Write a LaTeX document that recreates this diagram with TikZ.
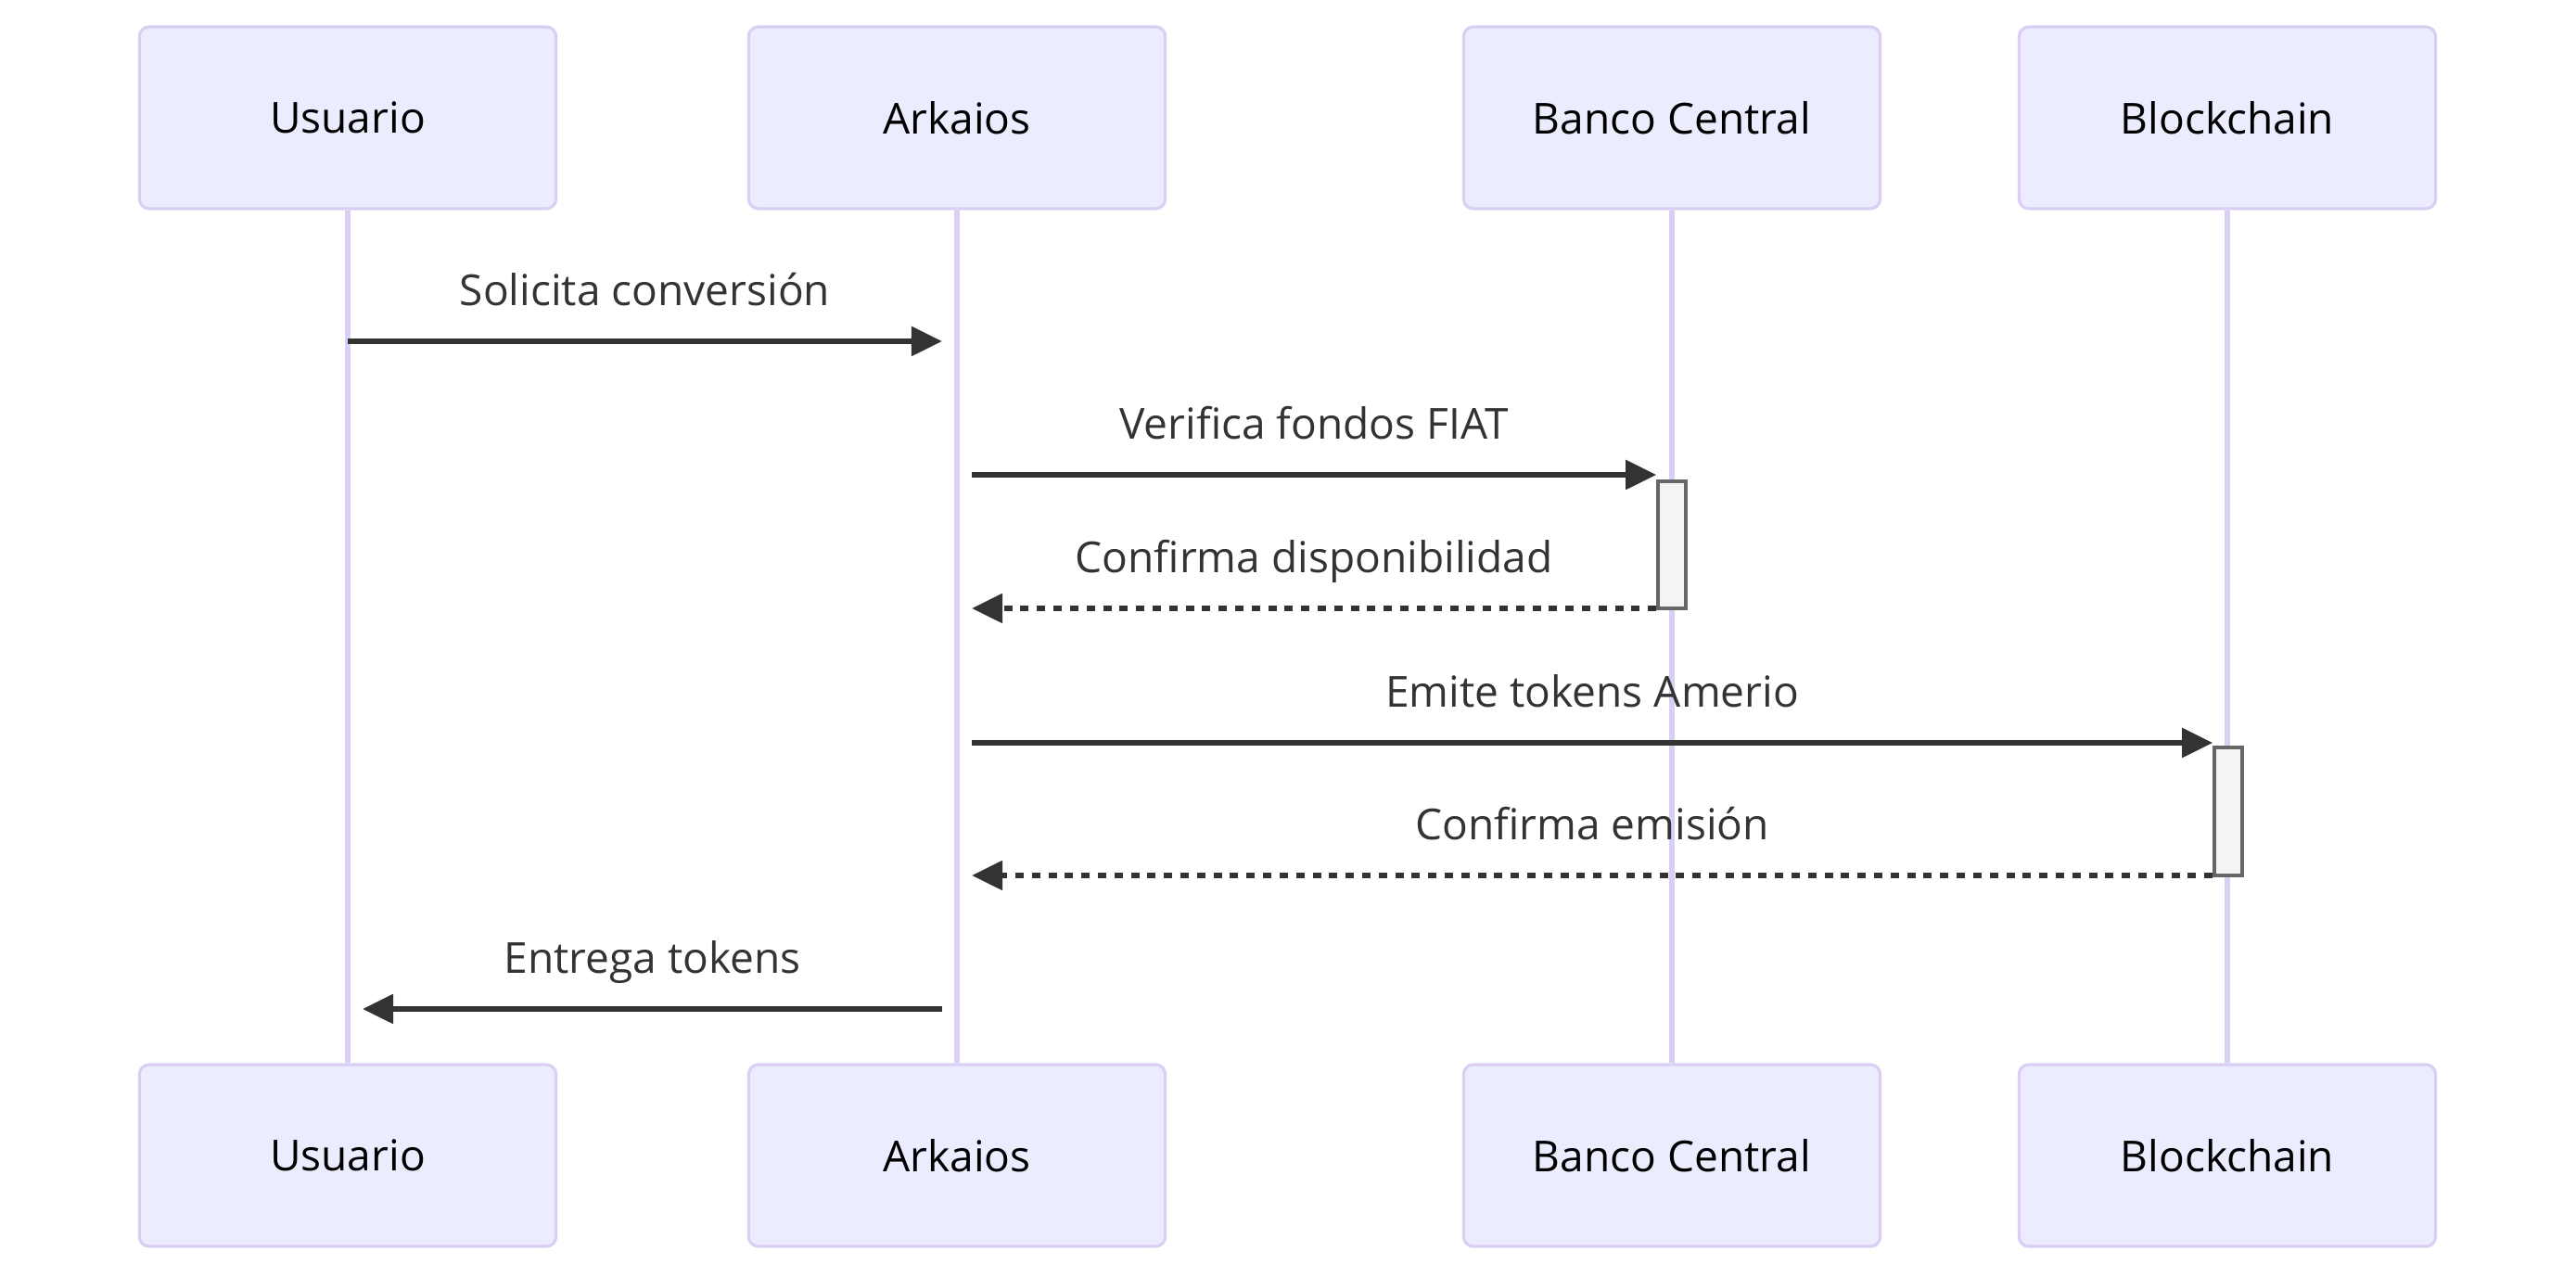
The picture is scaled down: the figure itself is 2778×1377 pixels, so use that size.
\documentclass[tikz,border=0pt]{standalone}
\usepackage{fontspec}
\setmainfont{Open Sans}
\usepackage{tikz}
\usetikzlibrary{arrows.meta,positioning}
\definecolor{actfill}{RGB}{236,236,255}
\definecolor{actline}{RGB}{218,206,243}
\definecolor{msgdark}{RGB}{51,51,51}
\definecolor{barfill}{RGB}{244,244,244}
\definecolor{bargrey}{RGB}{102,102,102}
\newcommand{\seqfont}{\fontsize{13.1pt}{15.5pt}\selectfont}

\begin{document}
\begin{tikzpicture}[
    x=0.01cm, y=-0.01cm,
    actor/.style={rectangle, draw=actline, fill=actfill,
                  rounded corners=3pt, line width=0.9pt,
                  minimum width=4.49cm, minimum height=1.96cm,
                  font=\seqfont, text=black},
    life/.style={draw=actline, line width=1.6pt},
    bar/.style={rectangle, draw=bargrey, fill=barfill, line width=1pt,
                minimum width=0.3cm, inner sep=0pt},
    msg/.style={-{Triangle[length=0.33cm, width=0.31cm]}, draw=msgdark,
                line width=1.5pt},
    reply/.style={msg, dash pattern=on 0.09cm off 0.088cm},
    lbl/.style={font=\seqfont, text=msgdark, midway, anchor=base,
                yshift=0.38cm},
  ]
  \useasboundingbox (0,0) rectangle (2778,1377);

  % Actores y lineas de vida
  \foreach \n/\x/\t in {usr/375/Usuario, ark/1032/Arkaios,
                        bco/1803/Banco Central, bch/2402/Blockchain} {
    \node[actor] (\n) at (\x,127) {\t};
    \node[actor] (\n2) at (\x,1246) {\t};
    \draw[life] (\n.south) -- (\n2.north);
  }

  % Filas de mensajes
  \foreach \r/\y in {1/368, 2/512, 3/656, 4/801, 5/944, 6/1088}
    \coordinate (row\r) at (0,\y);

  % Activaciones
  \node[bar, minimum height=1.37cm] (bcoact) at (1803,587.5) {};
  \node[bar, minimum height=1.38cm] (bchact) at (2403,875) {};

  % Mensajes
  \draw[msg] (usr |- row1) -- ([xshift=-0.16cm]ark |- row1)
    node[lbl] {Solicita conversión};
  \draw[msg] ([xshift=0.16cm]ark |- row2) -- (bcoact.west |- row2)
    node[lbl] {Verifica fondos FIAT};
  \draw[reply] (bcoact.west |- row3) -- ([xshift=0.16cm]ark |- row3)
    node[lbl] {Confirma disponibilidad};
  \draw[msg] ([xshift=0.16cm]ark |- row4) -- (bchact.west |- row4)
    node[lbl] {Emite tokens Amerio};
  \draw[reply] (bchact.west |- row5) -- ([xshift=0.16cm]ark |- row5)
    node[lbl] {Confirma emisión};
  \draw[msg] ([xshift=-0.16cm]ark |- row6) -- ([xshift=0.16cm]usr |- row6)
    node[lbl] {Entrega tokens};
\end{tikzpicture}
\end{document}
